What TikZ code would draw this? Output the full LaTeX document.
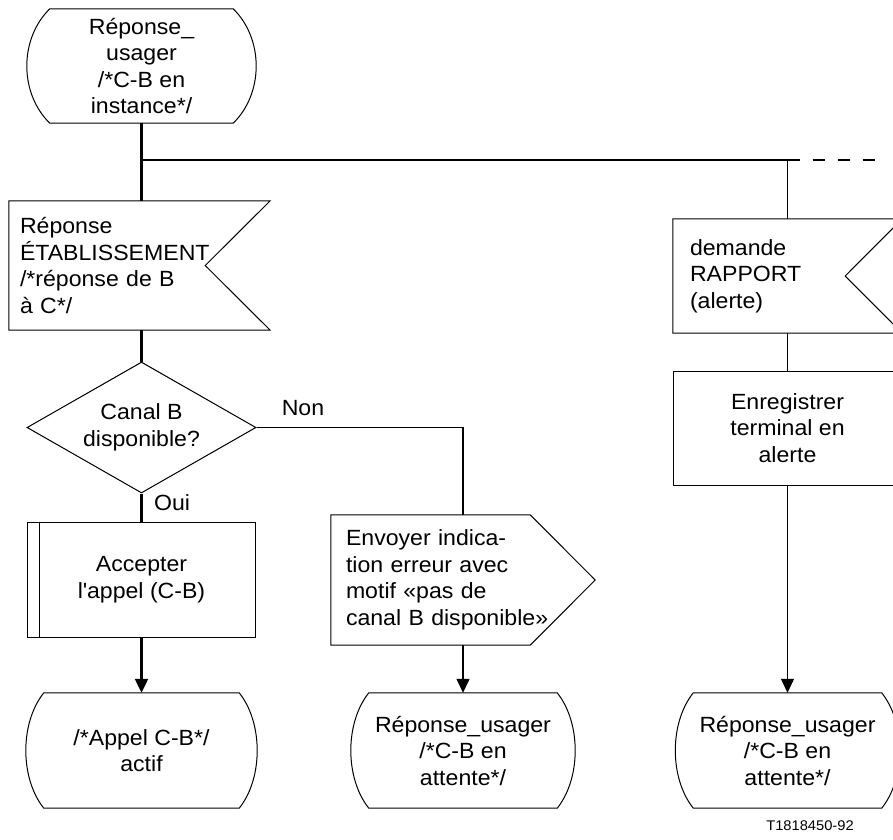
\documentclass[tikz,border=0pt]{standalone}
\usepackage{fontspec}
\setmainfont{Liberation Sans}[FakeStretch=1.05]
\usetikzlibrary{shapes,arrows.meta,positioning}

% SDL state symbol: straight top and bottom, bulging sides
\newcommand{\drawstate}[2]{%
  \draw[shapeline] ([xshift=#2]#1.north west) -- ([xshift=-#2]#1.north east)
    .. controls ([xshift=#2/3,yshift=-30pt]#1.north east) and ([xshift=#2/3,yshift=30pt]#1.south east) .. ([xshift=-#2]#1.south east)
    -- ([xshift=#2]#1.south west)
    .. controls ([xshift=-#2/3,yshift=30pt]#1.south west) and ([xshift=-#2/3,yshift=-30pt]#1.north west) .. ([xshift=#2]#1.north west)
    -- cycle;}
% SDL input signal: notch on the right
\newcommand{\drawinput}[2]{%
  \draw[shapeline] (#1.north west) -- (#1.north east) -- ([xshift=-#2]#1.east)
    -- (#1.south east) -- (#1.south west) -- cycle;}
% SDL output signal: point on the right
\newcommand{\drawoutput}[2]{%
  \draw[shapeline] (#1.north west) -- ([xshift=-#2]#1.north east) -- (#1.east)
    -- ([xshift=-#2]#1.south east) -- (#1.south west) -- cycle;}

\begin{document}
\begin{tikzpicture}[
    x=1pt, y=-1pt,
    txt/.style={font=\fontsize{22}{26.5}\selectfont},
    shapeline/.style={line width=1pt},
    state/.style={txt, minimum width=229pt, minimum height=114pt, inner sep=0pt, align=center},
    endstate/.style={state, minimum width=224pt, minimum height=115pt},
    sigin/.style={txt, inner ysep=0pt, minimum height=129pt, align=left},
    sigout/.style={txt, inner xsep=15pt, inner ysep=0pt, text width=234pt, minimum height=130pt, align=left},
    decision/.style={txt, diamond, draw, line width=1pt, aspect=2, minimum width=229pt, minimum height=131pt, inner sep=0pt, align=center},
    task/.style={txt, rectangle, draw, line width=1pt, minimum width=228pt, minimum height=114pt, align=center},
    flow/.style={line width=1.2pt},
    mainflow/.style={line width=2.2pt},
    dashflow/.style={line width=1.6pt, dash pattern=on 12pt off 13pt},
    arr/.style={-{Triangle[length=14pt,width=13pt]}},
    label/.style={txt}
]
\useasboundingbox (0,0) rectangle (893,839);
\clip (0,0) rectangle (893,839);

% Start state
\node[state] (s0) at (141.5,66) {R\'eponse\_\\usager\\/*C-B en\\instance*/};
\drawstate{s0}{23pt}

% Left column
\node[sigin, inner xsep=11pt, text width=239pt] (inA) at (139.5,265.5) {R\'eponse\\\'ETABLISSEMENT\\/*r\'eponse de B\\\`a C*/};
\drawinput{inA}{65pt}
\node[decision] (dec) at (141.5,427.5) {Canal B\\disponible?};
\node[task, minimum height=115pt] (proc) at (141.5,579.5) {Accepter\\l\textquotesingle appel (C-B)};
\draw[shapeline] ([xshift=12pt]proc.north west) -- ([xshift=12pt]proc.south west);
\node[endstate, minimum width=231pt] (s1) at (141.5,750.5) {/*Appel C-B*/\\actif};
\drawstate{s1}{18pt}

% Middle column
\node[sigout] (outA) at (463,580) {Envoyer indica-\\tion erreur avec\\motif «pas de\\canal B disponible»};
\drawoutput{outA}{65pt}
\node[endstate] (s2) at (463,750.5) {R\'eponse\_usager\\/*C-B en\\attente*/};
\drawstate{s2}{18pt}

% Right column
\node[sigin, inner xsep=17pt, text width=195pt, minimum height=114pt] (inB) at (787.5,276) {demande\\RAPPORT\\(alerte)};
\drawinput{inB}{57pt}
\node[task] (enreg) at (787.5,428) {Enregistrer\\terminal en\\alerte};
\node[endstate] (s3) at (787.5,750.5) {R\'eponse\_usager\\/*C-B en\\attente*/};
\drawstate{s3}{18pt}

% Connectors
\coordinate (fork) at (141.5,160);
\coordinate (cont) at (877,160);
\draw[mainflow] (s0.south) -- (s0.south |- inA.north);
\draw[mainflow] (dec.north |- inA.south) -- (dec.north);
\draw[mainflow] (dec.south) -- (proc.north);
\draw[mainflow, arr] (proc.south) -- (s1.north);
\draw[flow] (fork) -- (fork -| inB.north) -- (inB.north);
\draw[dashflow] (fork -| inB.north) -- (cont);
\draw[flow] (inB.south) -- (enreg.north);
\draw[flow, arr] (enreg.south) -- (s3.north);
\draw[flow] (dec.east) -- (dec.east -| outA.north) -- (outA.north);
\draw[flow, arr] (outA.south) -- (s2.north);

% Labels
\node[label] (non) at (303,408) {Non};
\node[label] (oui) at (172,503) {Oui};
\node[font=\fontsize{14}{16}\selectfont] (ref) at (810,826) {T1818450-92};

\end{tikzpicture}
\end{document}
